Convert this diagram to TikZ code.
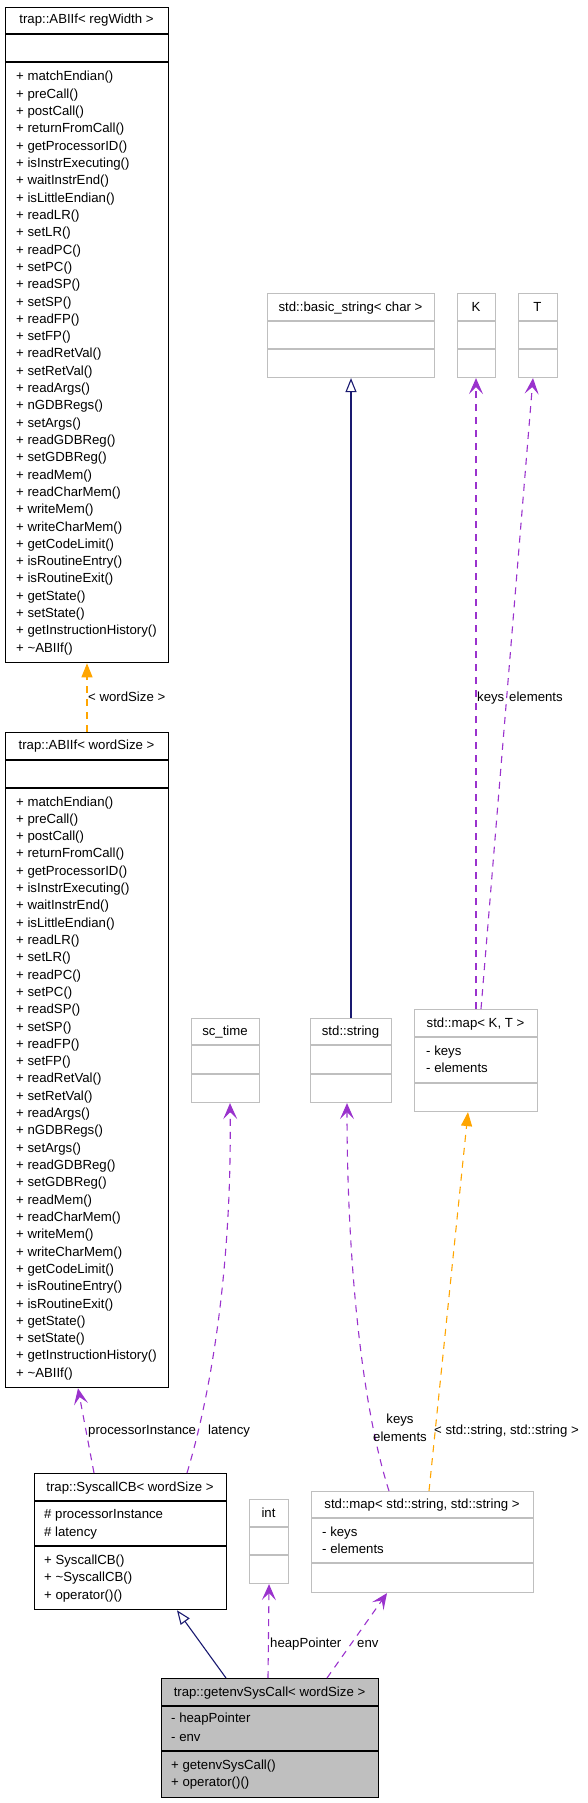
\documentclass[tikz,border=0pt]{standalone}
\usepackage{fontspec}
\setmainfont{Liberation Sans}
\usetikzlibrary{arrows.meta,calc}
\definecolor{umlpurple}{HTML}{9A32CD}
\definecolor{umlorange}{HTML}{FFA500}
\definecolor{umlnavy}{HTML}{191970}
\definecolor{umlgray}{HTML}{BFBFBF}
\definecolor{selfill}{HTML}{BFBFBF}
\newcommand{\classframe}[8]{%
  \node[#1box, minimum width=#5pt, minimum height=#6pt] (#2) at (#3,#4) {};
  \draw[#1sep] ($(#2.north west)+(0,#7)$) -- ($(#2.north east)+(0,#7)$);
  \draw[#1sep] ($(#2.north west)+(0,#8)$) -- ($(#2.north east)+(0,#8)$);
}
\begin{document}
\begin{tikzpicture}[x=1pt,y=-1pt,
  txt/.style={font=\fontsize{13.2}{18}\selectfont, inner sep=0pt},
  mem/.style={txt, anchor=base west},
  ttl/.style={txt, anchor=base},
  lbl/.style={txt, anchor=base west},
  mainbox/.style={draw=black, line width=1.3pt, anchor=north west, inner sep=0pt},
  mainsep/.style={draw=black, line width=1.3pt},
  selbox/.style={draw=black, fill=selfill, line width=1.3pt, anchor=north west, inner sep=0pt},
  selsep/.style={draw=black, line width=1.3pt},
  graybox/.style={draw=umlgray, line width=1.1pt, anchor=north west, inner sep=0pt},
  graysep/.style={draw=umlgray, line width=1.1pt},
  usage/.style={draw=umlpurple, line width=1.1pt, dash pattern=on 7pt off 6pt, -{Stealth[length=16pt,width=14pt,inset=7pt]}},
  tmpl/.style={draw=umlorange, line width=1.1pt, dash pattern=on 7pt off 6pt, -{Triangle[length=14pt,width=11pt]}},
  inherit/.style={draw=umlnavy, line width=1.1pt, -{Triangle[open,length=14pt,width=11pt,fill=white]}},
]
\useasboundingbox (0,0) rectangle (588,1803);

% ---------- trap::ABIIf< regWidth >
\classframe{main}{abiReg}{5}{7}{163}{655}{27}{55}
\node[ttl] (abiRegT) at (86.5,24) {trap::ABIIf< regWidth >};
\foreach \m [count=\i from 0] in {matchEndian(), preCall(), postCall(), returnFromCall(), getProcessorID(), isInstrExecuting(), waitInstrEnd(), isLittleEndian(), readLR(), setLR(), readPC(), setPC(), readSP(), setSP(), readFP(), setFP(), readRetVal(), setRetVal(), readArgs(), nGDBRegs(), setArgs(), readGDBReg(), setGDBReg(), readMem(), readCharMem(), writeMem(), writeCharMem(), getCodeLimit(), isRoutineEntry(), isRoutineExit(), getState(), setState(), getInstructionHistory(), \textasciitilde ABIIf()}
  \node[mem] (abiRegM\i) at (16,{81+17.31*\i}) {+ \m};

% ---------- trap::ABIIf< wordSize >
\classframe{main}{abiWord}{5}{732}{163}{655}{28}{56}
\node[ttl] (abiWordT) at (86.5,749) {trap::ABIIf< wordSize >};
\foreach \m [count=\i from 0] in {matchEndian(), preCall(), postCall(), returnFromCall(), getProcessorID(), isInstrExecuting(), waitInstrEnd(), isLittleEndian(), readLR(), setLR(), readPC(), setPC(), readSP(), setSP(), readFP(), setFP(), readRetVal(), setRetVal(), readArgs(), nGDBRegs(), setArgs(), readGDBReg(), setGDBReg(), readMem(), readCharMem(), writeMem(), writeCharMem(), getCodeLimit(), isRoutineEntry(), isRoutineExit(), getState(), setState(), getInstructionHistory(), \textasciitilde ABIIf()}
  \node[mem] (abiWordM\i) at (16,{806+17.31*\i}) {+ \m};

% ---------- std::basic_string< char >, K, T
\classframe{gray}{bstr}{267}{293}{167}{84}{28}{56}
\node[ttl] (bstrT) at (350.5,311) {std::basic\_string< char >};
\classframe{gray}{kcls}{457}{293}{38}{84}{28}{56}
\node[ttl] (kclsT) at (476,311) {K};
\classframe{gray}{tcls}{518}{293}{39}{84}{28}{56}
\node[ttl] (tclsT) at (537.5,311) {T};

% ---------- sc_time, std::string
\classframe{gray}{sctime}{191}{1018}{68}{84}{27}{56}
\node[ttl] (sctimeT) at (225,1035) {sc\_time};
\classframe{gray}{sstr}{310}{1018}{81}{84}{27}{56}
\node[ttl] (sstrT) at (350.5,1035) {std::string};

% ---------- std::map< K, T >
\classframe{gray}{mapKT}{414}{1009}{123}{102}{28}{74}
\node[ttl] (mapKTT) at (475.5,1027) {std::map< K, T >};
\node[mem] (mapKTa) at (426,1055) {- keys};
\node[mem] (mapKTb) at (426,1072) {- elements};

% ---------- trap::SyscallCB< wordSize >
\classframe{main}{sys}{34}{1473}{192}{136}{28}{73}
\node[ttl] (sysT) at (130,1491) {trap::SyscallCB< wordSize >};
\node[mem] (sysA) at (44,1518) {\# processorInstance};
\node[mem] (sysB) at (44,1536) {\# latency};
\node[mem] (sysC) at (44,1564) {+ SyscallCB()};
\node[mem] (sysD) at (44,1581) {+ \textasciitilde SyscallCB()};
\node[mem] (sysE) at (44,1599) {+ operator()()};

% ---------- int
\classframe{gray}{intc}{249}{1499}{39}{84}{28}{56}
\node[ttl] (intcT) at (268.5,1517) {int};

% ---------- std::map< std::string, std::string >
\classframe{gray}{mapSS}{311}{1491}{222}{101}{27}{72}
\node[ttl] (mapSST) at (422,1508) {std::map< std::string, std::string >};
\node[mem] (mapSSa) at (322,1536) {- keys};
\node[mem] (mapSSb) at (322,1553) {- elements};

% ---------- trap::getenvSysCall< wordSize >
\classframe{sel}{gev}{161}{1678}{217}{119}{28}{73}
\node[ttl] (gevT) at (269.5,1696) {trap::getenvSysCall< wordSize >};
\node[mem] (gevA) at (171,1722) {- heapPointer};
\node[mem] (gevB) at (171,1741) {- env};
\node[mem] (gevC) at (171,1769) {+ getenvSysCall()};
\node[mem] (gevD) at (171,1786) {+ operator()()};

% ---------- connectors
\draw[tmpl] ($(abiWord.north west)+(82,0)$) -- ($(abiReg.south west)+(82,0)$);
\node[lbl] (lblWord) at (88,701) {< wordSize >};

\draw[inherit] ($(sstr.north west)+(41,0)$) -- ($(bstr.south west)+(84,0)$);

\draw[usage] ($(mapKT.north west)+(62,0)$) -- ($(kcls.south west)+(19,0)$);
\draw[usage] ($(mapKT.north west)+(67,0)$) -- ($(tcls.south west)+(15,0)$);
\node[lbl] (lblKeys) at (477,701) {keys};
\node[lbl] (lblElems) at (509,701) {elements};

\draw[usage] ($(sys.north west)+(60,0)$) -- ($(abiWord.south west)+(73,0)$);
\node[lbl] (lblProc) at (88,1434) {processorInstance};

\draw[usage] ($(sys.north west)+(153,0)$) .. controls (215,1380) and (232,1250) .. ($(sctime.south west)+(39,0)$);
\node[lbl] (lblLat) at (208,1434) {latency};

\draw[usage] ($(mapSS.north west)+(78,0)$) .. controls (360,1400) and (347,1250) .. ($(sstr.south west)+(37,0)$);
\node[txt, align=center] (lblKE) at (400,1428) {keys\\elements};

\draw[tmpl] ($(mapSS.north west)+(118,0)$) -- ($(mapKT.south west)+(54,0)$);
\node[lbl] (lblSS) at (434,1434) {< std::string, std::string >};

\draw[inherit] ($(gev.north west)+(65,0)$) -- ($(sys.south west)+(143,0)$);
\draw[usage] ($(gev.north west)+(107,0)$) -- (intc.south);
\node[lbl] (lblHeap) at (270,1647) {heapPointer};
\draw[usage] ($(gev.north west)+(166,0)$) -- ($(mapSS.south west)+(76,0)$);
\node[lbl] (lblEnv) at (357,1647) {env};
\end{tikzpicture}
\end{document}
